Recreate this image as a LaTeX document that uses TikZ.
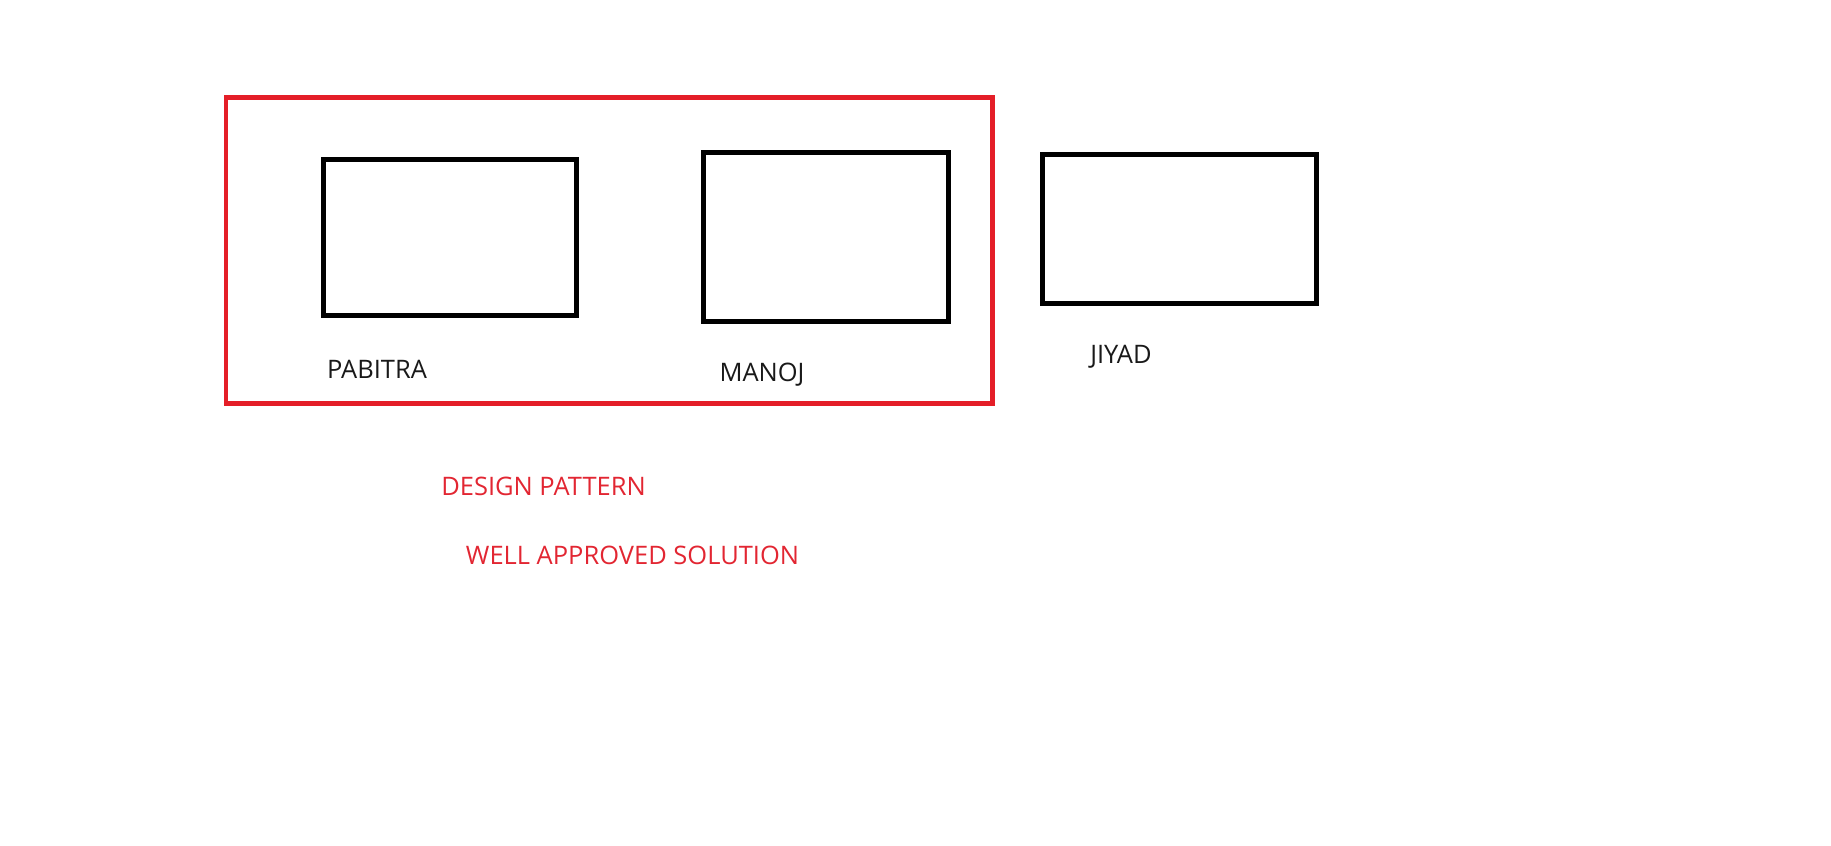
\documentclass[tikz,border=0pt]{standalone}
\usepackage{fontspec}
\setmainfont{Open Sans}
\usepackage{tikz}
\usetikzlibrary{calc}
\definecolor{framered}{RGB}{228,30,40}
\definecolor{notered}{RGB}{226,38,50}
\definecolor{labelgray}{RGB}{25,25,25}

\begin{document}
\begin{tikzpicture}[
  member/.style={draw=black, line width=.1cm, minimum width=#1, inner sep=0pt},
  memberlabel/.style={anchor=base, text=labelgray, font=\fontsize{14.5}{17}\selectfont},
  notetext/.style={anchor=base, text=notered, font=\fontsize{14.5}{17}\selectfont}]

 \useasboundingbox (0,0) rectangle (36.62,16.92);

 % group frame
 \draw [framered, line width=.09cm] (4.52,8.85) rectangle (19.85,14.97);

 \node (pabitra) [member=5.05cm, minimum height=3.12cm] at (8.995,12.17) {};
 \node (manoj) [member=4.9cm, minimum height=3.39cm] at (16.52,12.175) {};
 \node (jiyad) [member=5.48cm, minimum height=2.98cm] at (23.59,12.34) {};

 \node (pabitralabel) [memberlabel] at (7.54,9.34) {PABITRA};
 \node (manojlabel) [memberlabel] at (15.24,9.28) {MANOJ};
 \node (jiyadlabel) [memberlabel] at (22.42,9.64) {JIYAD};

 \node (pattern) [notetext] at (10.87,7.0) {DESIGN PATTERN};
 \node (solution) [notetext] at (12.65,5.62) {WELL APPROVED SOLUTION};
\end{tikzpicture}
\end{document}
